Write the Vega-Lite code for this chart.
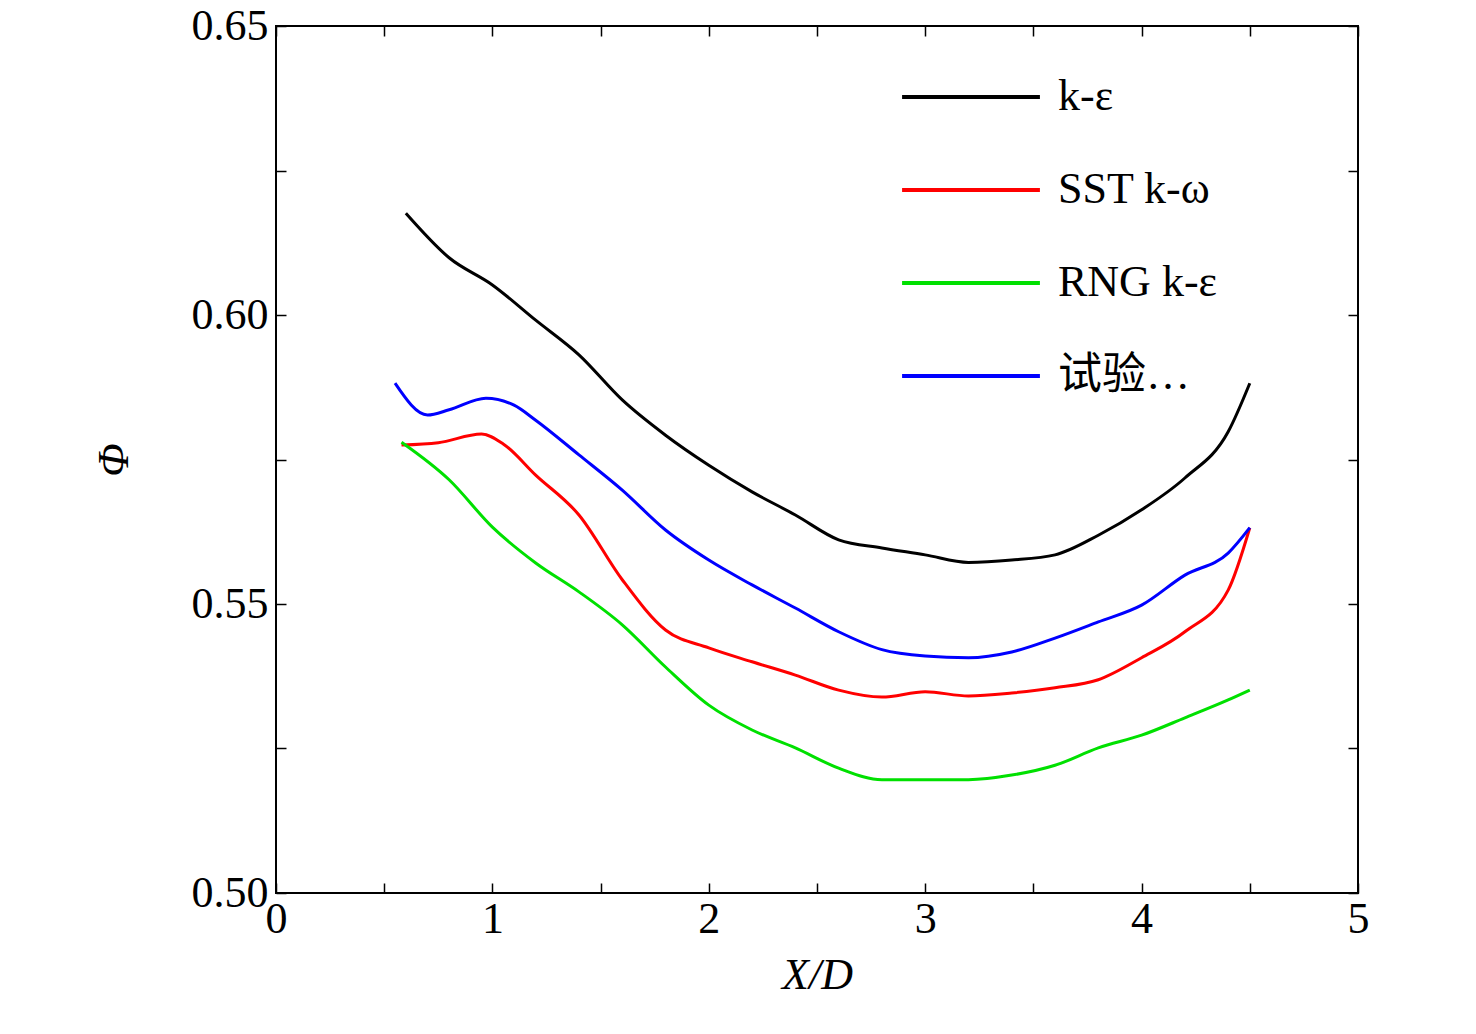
{
  "$schema": "https://vega.github.io/schema/vega-lite/v6.json",
  "width": 1082,
  "height": 867,
  "autosize": "none",
  "padding": {"left": 276, "top": 26, "right": 118, "bottom": 141},
  "background": "white",
  "config": {
    "font": "Liberation Serif",
    "view": {"stroke": "black", "strokeWidth": 2},
    "axis": {
      "grid": false, "domain": false, "tickColor": "black", "tickWidth": 1.5,
      "labelFont": "Liberation Serif", "labelFontSize": 44, "labelColor": "black", "labelFlush": false,
      "titleFont": "Liberation Serif", "titleFontSize": 44, "titleFontStyle": "italic",
      "titleFontWeight": "normal", "titleColor": "black"
    }
  },
  "data": {"values": [
    {"m":"k-ε","x":0.6,"y":0.6176},{"m":"k-ε","x":0.8,"y":0.6099},{"m":"k-ε","x":1.0,"y":0.6052},{"m":"k-ε","x":1.2,"y":0.5991},{"m":"k-ε","x":1.4,"y":0.5931},{"m":"k-ε","x":1.6,"y":0.5853},{"m":"k-ε","x":1.8,"y":0.5792},{"m":"k-ε","x":2.0,"y":0.5740},{"m":"k-ε","x":2.2,"y":0.5694},{"m":"k-ε","x":2.4,"y":0.5654},{"m":"k-ε","x":2.6,"y":0.5611},{"m":"k-ε","x":2.8,"y":0.5597},{"m":"k-ε","x":3.0,"y":0.5585},{"m":"k-ε","x":3.2,"y":0.5572},{"m":"k-ε","x":3.4,"y":0.5576},{"m":"k-ε","x":3.6,"y":0.5585},{"m":"k-ε","x":3.8,"y":0.5619},{"m":"k-ε","x":4.0,"y":0.5663},{"m":"k-ε","x":4.2,"y":0.5718},{"m":"k-ε","x":4.4,"y":0.5798},{"m":"k-ε","x":4.5,"y":0.5882},
    {"m":"SST k-ω","x":0.58,"y":0.5775},{"m":"SST k-ω","x":0.75,"y":0.5779},{"m":"SST k-ω","x":0.95,"y":0.5794},{"m":"SST k-ω","x":1.05,"y":0.5777},{"m":"SST k-ω","x":1.2,"y":0.5723},{"m":"SST k-ω","x":1.4,"y":0.5654},{"m":"SST k-ω","x":1.6,"y":0.5542},{"m":"SST k-ω","x":1.8,"y":0.5455},{"m":"SST k-ω","x":2.0,"y":0.5424},{"m":"SST k-ω","x":2.2,"y":0.5400},{"m":"SST k-ω","x":2.4,"y":0.5377},{"m":"SST k-ω","x":2.6,"y":0.5351},{"m":"SST k-ω","x":2.8,"y":0.5339},{"m":"SST k-ω","x":3.0,"y":0.5348},{"m":"SST k-ω","x":3.2,"y":0.5341},{"m":"SST k-ω","x":3.4,"y":0.5346},{"m":"SST k-ω","x":3.6,"y":0.5355},{"m":"SST k-ω","x":3.8,"y":0.5369},{"m":"SST k-ω","x":4.0,"y":0.5407},{"m":"SST k-ω","x":4.2,"y":0.5452},{"m":"SST k-ω","x":4.4,"y":0.5524},{"m":"SST k-ω","x":4.5,"y":0.5632},
    {"m":"RNG k-ε","x":0.58,"y":0.5780},{"m":"RNG k-ε","x":0.8,"y":0.5715},{"m":"RNG k-ε","x":1.0,"y":0.5633},{"m":"RNG k-ε","x":1.2,"y":0.5571},{"m":"RNG k-ε","x":1.4,"y":0.5521},{"m":"RNG k-ε","x":1.6,"y":0.5464},{"m":"RNG k-ε","x":1.8,"y":0.5391},{"m":"RNG k-ε","x":2.0,"y":0.5325},{"m":"RNG k-ε","x":2.2,"y":0.5282},{"m":"RNG k-ε","x":2.4,"y":0.5251},{"m":"RNG k-ε","x":2.6,"y":0.5216},{"m":"RNG k-ε","x":2.8,"y":0.5196},{"m":"RNG k-ε","x":3.0,"y":0.5196},{"m":"RNG k-ε","x":3.2,"y":0.5196},{"m":"RNG k-ε","x":3.4,"y":0.5204},{"m":"RNG k-ε","x":3.6,"y":0.5221},{"m":"RNG k-ε","x":3.8,"y":0.5251},{"m":"RNG k-ε","x":4.0,"y":0.5273},{"m":"RNG k-ε","x":4.2,"y":0.5303},{"m":"RNG k-ε","x":4.4,"y":0.5334},{"m":"RNG k-ε","x":4.5,"y":0.5351},
    {"m":"试验数据","x":0.55,"y":0.5882},{"m":"试验数据","x":0.7,"y":0.5827},{"m":"试验数据","x":0.8,"y":0.5836},{"m":"试验数据","x":0.97,"y":0.5856},{"m":"试验数据","x":1.1,"y":0.5844},{"m":"试验数据","x":1.2,"y":0.5818},{"m":"试验数据","x":1.4,"y":0.5758},{"m":"试验数据","x":1.6,"y":0.5697},{"m":"试验数据","x":1.8,"y":0.5628},{"m":"试验数据","x":2.0,"y":0.5576},{"m":"试验数据","x":2.2,"y":0.5533},{"m":"试验数据","x":2.4,"y":0.5493},{"m":"试验数据","x":2.6,"y":0.5452},{"m":"试验数据","x":2.8,"y":0.5421},{"m":"试验数据","x":3.0,"y":0.5410},{"m":"试验数据","x":3.2,"y":0.5407},{"m":"试验数据","x":3.4,"y":0.5417},{"m":"试验数据","x":3.6,"y":0.5441},{"m":"试验数据","x":3.8,"y":0.5469},{"m":"试验数据","x":4.0,"y":0.5498},{"m":"试验数据","x":4.2,"y":0.5550},{"m":"试验数据","x":4.4,"y":0.5588},{"m":"试验数据","x":4.5,"y":0.5632}
  ]},
  "resolve": {"axis": {"x": "independent", "y": "independent"}},
  "layer": [
    {
      "mark": {"type": "line", "interpolate": "monotone", "strokeWidth": 3},
      "encoding": {
        "x": {"field": "x", "type": "quantitative", "scale": {"domain": [0, 5]},
          "axis": {"title": "X/D", "values": [0,0.5,1,1.5,2,2.5,3,3.5,4,4.5,5], "labelExpr": "datum.value % 1 === 0 ? format(datum.value, 'd') : ''", "labelAlign": "center", "tickSize": -10, "labelPadding": 14, "titlePadding": 12}},
        "y": {"field": "y", "type": "quantitative", "scale": {"domain": [0.5, 0.65]},
          "axis": {"title": "Φ", "values": [0.5,0.525,0.55,0.575,0.6,0.625,0.65], "labelExpr": "datum.value * 1000 % 50 < 1 ? format(datum.value, '.2f') : ''", "tickSize": -10, "labelPadding": 18, "titlePadding": 55}},
        "color": {"field": "m", "type": "nominal",
          "scale": {"domain": ["k-ε", "SST k-ω", "RNG k-ε", "试验数据"], "range": ["#000000", "#ff0000", "#00e000", "#0000ff"]},
          "legend": {"title": null, "orient": "none", "legendX": 624, "legendY": 0, "symbolType": "stroke", "symbolSize": 19000, "symbolStrokeWidth": 4,
            "labelFontSize": 44, "labelFont": "Liberation Serif, Noto Sans CJK SC", "labelColor": "black", "rowPadding": -55, "labelOffset": 16}}
      }
    },
    {
      "mark": {"type": "line", "opacity": 0},
      "encoding": {
        "x": {"field": "x", "type": "quantitative", "scale": {"domain": [0, 5]},
          "axis": {"orient": "top", "title": null, "labels": false, "values": [0,0.5,1,1.5,2,2.5,3,3.5,4,4.5,5], "tickSize": -10}},
        "y": {"field": "y", "type": "quantitative", "scale": {"domain": [0.5, 0.65]},
          "axis": {"orient": "right", "title": null, "labels": false, "values": [0.5,0.525,0.55,0.575,0.6,0.625,0.65], "tickSize": -10}}
      }
    }
  ]
}
